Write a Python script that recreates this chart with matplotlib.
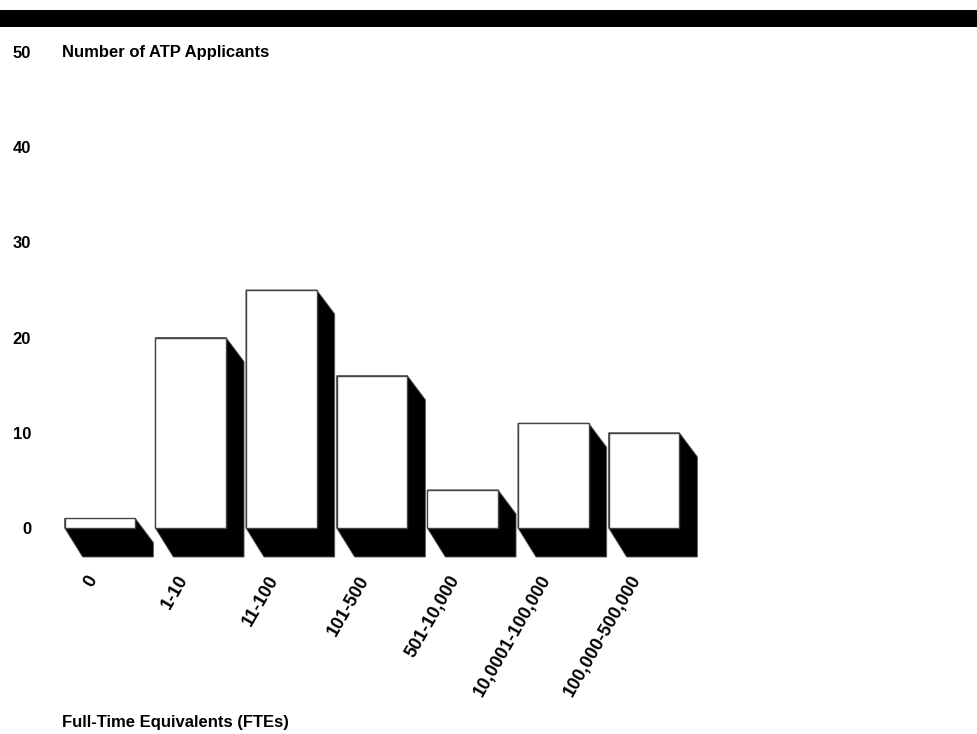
"""
Number of ATP applicants by company size (FTEs), drawn as old-style
3-D bars with a black extruded shadow.
"""

import matplotlib
matplotlib.use("Agg")
import matplotlib.pyplot as plt
from matplotlib.patches import Polygon, Rectangle
from matplotlib.transforms import ScaledTranslation

# --- data --------------------------------------------------------------
size_classes = ["0", "1-10", "11-100", "101-500", "501-10,000",
                "10,0001-100,000", "100,000-500,000"]
applicants = [1, 20, 25, 16, 4, 11, 10]
y_ticks = [0, 10, 20, 30, 40, 50]

plt.rcParams["font.family"] = ["Liberation Sans", "DejaVu Sans"]
plt.rcParams["font.weight"] = "bold"

W, H, DPI = 977, 734, 100
fig = plt.figure(figsize=(W / DPI, H / DPI), dpi=DPI, facecolor="white")

# axes placed so the value scale sits where the original had it
ax = fig.add_axes([54.67 / W, (H - 528) / H, 634.67 / W, 476 / H])
ax.set_xlim(-0.5, len(size_classes) - 0.5)
ax.set_ylim(0, 50)
for s in ax.spines.values():
    s.set_visible(False)

# shadow offsets in pixels -> data units
px_x = 634.67 / len(size_classes)
px_y = 476 / 50
dx = 18 / px_x
dy_top = 24 / px_y
dy_floor = 29 / px_y

bar_w = 0.78
for i, h in enumerate(applicants):
    xl, xr = i - bar_w / 2, i + bar_w / 2
    shadow = Polygon([(xl, 0), (xl, h), (xr, h), (xr + dx, h - dy_top),
                      (xr + dx, -dy_floor), (xl + dx, -dy_floor)],
                     closed=True, facecolor="black", edgecolor="#555555",
                     linewidth=0.6, zorder=1, clip_on=False)
    ax.add_patch(shadow)

ax.bar(range(len(size_classes)), applicants, width=bar_w, color="white",
       edgecolor="#444444", linewidth=1.0, zorder=2, clip_on=False)

# ticks
ax.set_yticks(y_ticks)
ax.set_yticklabels([str(t) for t in y_ticks], fontsize=12, fontweight="bold")
ax.tick_params(axis="y", length=0, pad=17)

ax.set_xticks(range(len(size_classes)))
ax.set_xticklabels(size_classes, rotation=60, ha="right", va="top",
                   rotation_mode="anchor", fontsize=13, fontweight="bold")
ax.tick_params(axis="x", length=0, pad=32)
shift = ScaledTranslation(-14 / DPI, 0, fig.dpi_scale_trans)
for lab in ax.get_xticklabels():
    lab.set_transform(lab.get_transform() + shift)

# titles
fig.text(62 / W, (H - 52) / H, "Number of ATP Applicants", fontsize=12,
         fontweight="bold", ha="left", va="center")
fig.text(62 / W, (H - 722) / H, "Full-Time Equivalents (FTEs)", fontsize=12,
         fontweight="bold", ha="left", va="center")

# black band across the top
fig.patches.append(Rectangle((0, (H - 27) / H), 1, 17 / H, transform=fig.transFigure,
                             facecolor="black", edgecolor="none", figure=fig))

fig.savefig("out.png", dpi=DPI, facecolor="white")
